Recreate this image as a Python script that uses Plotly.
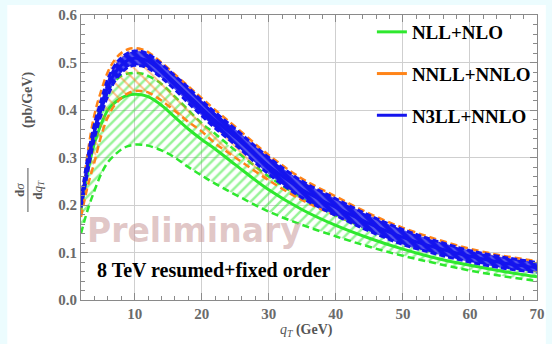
import plotly.graph_objects as go

qT = [2, 3, 4, 5, 6, 7, 8, 9, 10, 11, 12, 14, 16, 18, 20, 22, 25, 30, 35, 40, 45, 50, 55, 60, 65, 70]

# NLL+NLO
nll_central = [0.19, 0.27, 0.33, 0.37, 0.40, 0.415, 0.425, 0.431, 0.433, 0.432, 0.428, 0.41, 0.385, 0.36, 0.338, 0.318, 0.285, 0.232, 0.19, 0.157, 0.13, 0.107, 0.088, 0.073, 0.06, 0.049]
nll_lower = [0.14, 0.19, 0.23, 0.265, 0.29, 0.305, 0.317, 0.324, 0.327, 0.327, 0.325, 0.315, 0.3, 0.28, 0.262, 0.245, 0.222, 0.186, 0.158, 0.134, 0.112, 0.093, 0.077, 0.062, 0.05, 0.04]
nll_upper = [0.2, 0.29, 0.36, 0.41, 0.44, 0.46, 0.472, 0.477, 0.478, 0.477, 0.472, 0.455, 0.428, 0.4, 0.372, 0.35, 0.315, 0.26, 0.215, 0.178, 0.148, 0.125, 0.105, 0.088, 0.074, 0.062]

# NNLL+NNLO
nnll_central = [0.2, 0.285, 0.355, 0.405, 0.445, 0.475, 0.492, 0.503, 0.508, 0.507, 0.502, 0.482, 0.457, 0.43, 0.403, 0.378, 0.343, 0.283, 0.235, 0.196, 0.163, 0.134, 0.112, 0.093, 0.079, 0.069]
nnll_lower = [0.175, 0.24, 0.29, 0.345, 0.385, 0.41, 0.425, 0.435, 0.44, 0.44, 0.437, 0.42, 0.398, 0.375, 0.355, 0.33, 0.3, 0.252, 0.21, 0.178, 0.15, 0.124, 0.104, 0.087, 0.073, 0.062]
nnll_upper = [0.2, 0.31, 0.39, 0.44, 0.48, 0.505, 0.52, 0.528, 0.53, 0.528, 0.522, 0.5, 0.475, 0.45, 0.425, 0.4, 0.365, 0.305, 0.255, 0.218, 0.182, 0.152, 0.128, 0.108, 0.093, 0.082]

# N3LL+NNLO
n3ll_central = [0.203, 0.285, 0.355, 0.405, 0.448, 0.477, 0.494, 0.505, 0.509, 0.508, 0.503, 0.482, 0.457, 0.431, 0.404, 0.378, 0.343, 0.282, 0.232, 0.195, 0.161, 0.132, 0.11, 0.092, 0.078, 0.068]
n3ll_lower = [0.195, 0.27, 0.34, 0.39, 0.43, 0.46, 0.478, 0.49, 0.494, 0.493, 0.488, 0.468, 0.443, 0.415, 0.388, 0.362, 0.327, 0.265, 0.215, 0.178, 0.145, 0.117, 0.097, 0.08, 0.067, 0.058]
n3ll_upper = [0.21, 0.3, 0.37, 0.42, 0.465, 0.493, 0.51, 0.52, 0.524, 0.523, 0.518, 0.497, 0.472, 0.447, 0.42, 0.395, 0.36, 0.3, 0.25, 0.213, 0.178, 0.148, 0.124, 0.104, 0.09, 0.079]

GREEN = "#2ee82e"
ORANGE = "#ff8418"
BLUE = "#1414ee"

fig = go.Figure()

def band(lower, upper, color, shape, fg, bg, size, sol, width, dash):
    fig.add_trace(go.Scatter(x=qT, y=lower, mode="lines", line=dict(color=color, width=width, dash=dash, shape="spline"),
                             showlegend=False, hoverinfo="skip"))
    fig.add_trace(go.Scatter(x=qT, y=upper, mode="lines", line=dict(color=color, width=width, dash=dash, shape="spline"),
                             fill="tonexty", fillcolor="rgba(0,0,0,0)",
                             fillpattern=dict(shape=shape, fgcolor=fg, bgcolor=bg, size=size, solidity=sol),
                             showlegend=False, hoverinfo="skip"))

def central(y, color, name, width):
    fig.add_trace(go.Scatter(x=qT, y=y, mode="lines", name=name, legendgroup=name,
                             line=dict(color=color, width=width, shape="spline"), hoverinfo="skip"))

band(nll_lower, nll_upper, GREEN, "/", GREEN, "rgba(0,0,0,0)", 7, 0.35, 2.5, "7px,4px")
central(nll_central, GREEN, "NLL+NLO", 3)
band(nnll_lower, nnll_upper, ORANGE, "\\", ORANGE, "rgba(0,0,0,0)", 8, 0.25, 2.5, "7px,4px")
central(nnll_central, ORANGE, "NNLL+NNLO", 3)
band(n3ll_lower, n3ll_upper, BLUE, "\\", "#9c9cf0", BLUE, 7, 0.3, 3, "6px,3px")
central(n3ll_central, BLUE, "N3LL+NNLO", 3)

axis_common = dict(
    showline=True, linecolor="#8a8a8a", linewidth=1, mirror="allticks",
    ticks="inside", ticklen=7, tickcolor="#8a8a8a", tickwidth=1,
    showgrid=True, gridcolor="#cfcfcf", gridwidth=1, zeroline=False,
    ticklabeloverflow="allow",
    tickfont=dict(family="Liberation Serif", size=15, color="#6a6a6a", weight="bold"),
)

fig.update_xaxes(range=[2, 70], tickvals=[10, 20, 30, 40, 50, 60, 70],
                 minor=dict(ticks="inside", ticklen=4, tickcolor="#8a8a8a", dtick=2, tick0=0, showgrid=False),
                 **axis_common)
fig.update_yaxes(range=[0, 0.6], tickvals=[0.0, 0.1, 0.2, 0.3, 0.4, 0.5, 0.6],
                 ticktext=["0.0", "0.1", "0.2", "0.3", "0.4", "0.5", "0.6"],
                 minor=dict(ticks="inside", ticklen=4, tickcolor="#8a8a8a", dtick=0.02, tick0=0, showgrid=False),
                 **axis_common)

L, R, T, B = 81, 7, 15, 44
W, H = 552, 344
pw, ph = W - L - R, H - T - B

def px_x(p):
    return (p - L) / pw

def px_y(p):
    return (H - B - p) / ph

def note(text, x, y, font, angle=0):
    return dict(text=text, xref="paper", yref="paper", x=px_x(x), y=px_y(y), showarrow=False,
                xanchor="center", yanchor="middle", textangle=angle, font=font)

fig.update_layout(
    width=W, height=H,
    margin=dict(l=L, r=R, t=T, b=B),
    paper_bgcolor="#ecfcfe", plot_bgcolor="white",
    showlegend=True,
    legend=dict(x=px_x(377), y=px_y(13), xanchor="left", yanchor="top",
                bgcolor="rgba(0,0,0,0)", tracegroupgap=14,
                font=dict(family="Liberation Serif", size=19, color="black", weight="bold")),
    shapes=[
        dict(type="rect", xref="paper", yref="paper", x0=px_x(6), x1=px_x(W + 2), y0=px_y(H + 2), y1=px_y(5),
             fillcolor="white", line=dict(width=0), layer="below"),
        dict(type="line", xref="paper", yref="paper", x0=px_x(27), x1=px_x(27), y0=px_y(168), y1=px_y(212),
             line=dict(color="#555", width=1)),
    ],
    annotations=[
        note("Preliminary", 196, 230, dict(family="DejaVu Sans", size=33, color="rgba(200,150,150,0.55)", weight="bold")),
        note("8 TeV resumed+fixed order", 216, 270, dict(family="Liberation Serif", size=20, color="black", weight="bold")),
        note("<i>q<sub>T</sub></i> <b>(GeV)</b>", 310, 331, dict(family="Liberation Serif", size=14, color="#555")),
        note("<b>(pb/GeV)</b>", 27, 100, dict(family="Liberation Serif", size=14, color="#555"), -90),
        note("<b>d</b><i>σ</i>", 18, 190, dict(family="Liberation Serif", size=13, color="#555"), -90),
        note("<b>d</b><i>q<sub>T</sub></i>", 37, 190, dict(family="Liberation Serif", size=13, color="#555"), -90),
    ],
)

fig.write_html("out.html", config={"displayModeBar": False},
               post_script="document.body.style.margin='0';document.body.style.padding='0';")
